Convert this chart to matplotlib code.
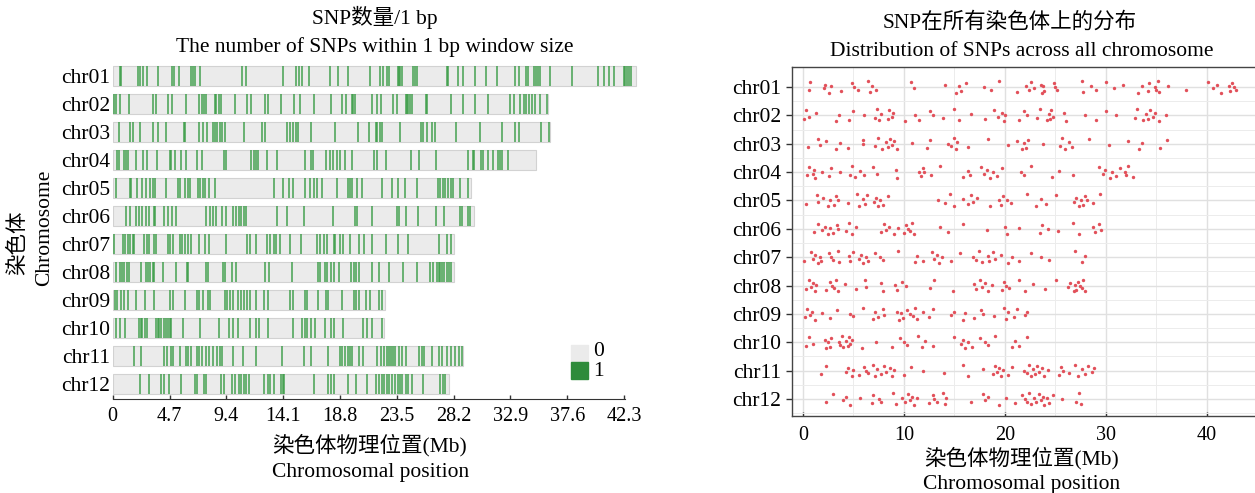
import matplotlib
matplotlib.use("Agg")
import matplotlib.pyplot as plt
from matplotlib.patches import Rectangle
import numpy as np

plt.rcParams["font.family"] = ["Liberation Serif", "Noto Sans CJK SC"]

# ---------------------------------------------------------------------------
# Data (Mb)
# ---------------------------------------------------------------------------

CHR_NAMES = ["chr01", "chr02", "chr03", "chr04", "chr05", "chr06",
             "chr07", "chr08", "chr09", "chr10", "chr11", "chr12"]
CHR_LEN = [43.3, 36.0, 36.2, 35.0, 29.6, 29.9, 28.2, 28.2, 22.5, 22.4, 29.0, 27.8]

CHR01 = [0.62, 0.70, 2.11, 2.23, 2.54, 2.82, 3.77, 4.90, 5.04, 5.46, 6.48, 6.65, 6.82,
         7.24, 10.70, 10.99, 14.08, 15.15, 15.44, 15.63, 16.20, 17.97, 18.65, 19.44,
         21.24, 22.08, 22.39, 22.65, 22.87, 23.58, 23.66, 23.77, 23.94, 24.85, 24.99,
         25.18, 27.66, 27.75, 28.59, 29.01, 30.00, 30.85, 31.75, 33.24, 33.58, 34.20,
         34.34, 34.85, 34.99, 35.21, 35.32, 36.20, 38.00, 40.14, 40.65, 41.01, 41.46,
         42.25, 42.37, 42.51, 42.68, 42.87]
CHR02 = [0.11, 0.28, 0.62, 1.32, 3.30, 3.58, 4.56, 4.93, 6.03, 7.15, 7.38, 7.52, 7.72,
         8.45, 8.56, 8.79, 8.93, 10.08, 11.10, 11.46, 12.59, 12.87, 13.92, 14.99, 15.49,
         16.68, 18.08, 18.93, 19.32, 19.77, 19.89, 20.06, 21.46, 21.89, 22.17, 23.21,
         23.49, 24.23, 24.34, 24.45, 24.62, 24.79, 25.89, 26.03, 28.00, 29.01, 30.00,
         31.04, 32.87, 33.15, 33.72, 34.00, 34.20, 34.42, 34.70, 34.93, 35.32, 35.94]
CHR03 = [0.48, 1.46, 1.69, 2.25, 3.30, 3.72, 4.42, 5.92, 5.97, 7.10, 7.44, 7.80, 8.28,
         8.45, 8.65, 8.87, 9.07, 9.30, 10.85, 12.31, 12.59, 14.42, 14.70, 14.93, 15.13,
         15.32, 16.39, 18.37, 20.28, 21.18, 21.75, 21.89, 22.08, 22.31, 23.77, 25.46,
         25.63, 25.97, 26.39, 26.68, 28.37, 30.34, 32.17, 33.30, 33.63, 35.41, 36.11]
CHR04 = [0.39, 0.56, 0.96, 1.13, 1.24, 1.89, 2.54, 2.82, 3.66, 4.70, 4.85, 5.13, 5.69,
         6.03, 6.96, 7.38, 9.21, 9.35, 11.46, 11.66, 11.89, 12.03, 12.73, 13.63, 15.89,
         16.39, 16.54, 17.66, 17.94, 18.23, 18.51, 18.79, 19.21, 19.77, 21.61, 21.89,
         22.59, 24.70, 25.35, 26.76, 29.35, 29.77, 29.92, 30.42, 30.62, 31.04, 31.46,
         31.89, 32.03, 32.17, 32.68]
CHR05 = [0.28, 1.41, 1.52, 2.03, 2.45, 2.73, 3.10, 3.30, 3.49, 4.42, 5.41, 5.55, 5.97,
         6.20, 6.39, 7.04, 7.24, 7.44, 7.66, 7.94, 8.45, 13.35, 14.08, 14.56, 14.93,
         15.89, 16.34, 16.62, 16.90, 17.30, 18.59, 19.44, 19.63, 19.83, 20.20, 20.62,
         22.25, 23.10, 23.58, 24.14, 25.13, 26.87, 27.10, 27.32, 27.52, 27.72, 27.94,
         28.17, 28.73, 29.41]
CHR06 = [1.13, 1.46, 1.89, 2.17, 2.45, 2.73, 3.01, 3.38, 3.49, 4.28, 4.56, 4.90, 5.27,
         7.72, 8.08, 8.28, 8.51, 9.01, 9.41, 9.97, 10.20, 10.42, 10.62, 10.82, 11.04,
         13.58, 14.42, 15.83, 18.23, 20.00, 20.20, 21.41, 23.49, 23.66, 24.28, 25.27,
         26.76, 27.38, 28.73, 28.93, 29.35, 29.58]
CHR07 = [0.11, 0.85, 1.04, 1.24, 1.46, 1.69, 1.80, 2.59, 2.82, 3.01, 3.44, 3.58, 4.56,
         4.70, 4.99, 5.55, 5.75, 5.97, 6.25, 6.48, 7.10, 7.66, 7.94, 9.41, 11.10, 11.32,
         11.89, 12.79, 13.01, 13.30, 13.52, 13.80, 14.65, 15.61, 16.90, 17.18, 17.46,
         17.75, 18.31, 18.42, 18.79, 19.07, 19.63, 20.34, 20.76, 21.46, 22.59, 23.58,
         24.42, 26.96, 27.66, 28.00]
CHR08 = [0.28, 0.62, 0.76, 0.96, 1.18, 1.32, 2.31, 2.73, 2.93, 3.10, 3.30, 3.44, 4.14,
         5.27, 6.11, 6.25, 7.72, 7.89, 9.13, 9.30, 9.86, 10.20, 12.59, 12.96, 14.85,
         16.96, 17.18, 17.52, 17.75, 18.03, 18.31, 18.70, 19.72, 19.92, 20.11, 20.39,
         21.41, 22.03, 22.82, 24.00, 25.13, 26.25, 26.48, 26.82, 26.96, 27.10, 27.24,
         27.44, 27.61, 27.80, 28.00]
CHR09 = [0.20, 0.39, 0.68, 0.90, 1.24, 1.89, 2.65, 3.38, 4.70, 4.99, 5.97, 6.96, 7.15,
         7.44, 7.89, 8.08, 9.30, 9.49, 9.69, 9.92, 10.34, 10.62, 10.90, 11.10, 11.32,
         11.89, 12.51, 12.87, 14.70, 14.93, 15.89, 16.06, 16.96, 17.66, 17.80, 18.93,
         19.92, 20.11, 20.34, 20.96, 21.24, 22.03, 22.25]
CHR10 = [0.28, 0.62, 1.04, 2.17, 2.31, 2.45, 2.65, 2.82, 3.58, 3.72, 3.86, 4.00, 4.23,
         4.42, 4.56, 4.70, 4.85, 5.83, 7.24, 8.79, 9.63, 9.97, 10.34, 11.38, 11.83,
         12.11, 12.87, 14.93, 15.69, 15.89, 16.11, 16.39, 16.73, 17.52, 18.08, 18.31,
         19.07, 20.68, 21.04, 21.46, 22.25]
CHR11 = [1.75, 2.31, 4.28, 4.51, 4.85, 4.99, 5.55, 6.03, 6.25, 6.48, 6.96, 7.10, 7.38,
         7.72, 8.00, 8.28, 8.65, 8.85, 9.07, 9.97, 10.76, 11.89, 14.00, 15.83, 16.39,
         17.80, 18.79, 18.99, 19.21, 19.44, 19.63, 19.83, 20.34, 20.68, 21.89, 22.17,
         22.45, 22.65, 22.82, 23.01, 23.21, 23.38, 23.66, 23.94, 24.28, 25.35, 25.55,
         25.75, 26.39, 26.96, 27.24, 27.61, 28.00, 28.28, 28.65, 28.85]
CHR12 = [2.25, 3.01, 4.00, 4.23, 4.62, 5.69, 6.82, 6.96, 7.52, 7.72, 8.93, 9.21, 9.86,
         10.14, 10.42, 10.62, 10.82, 11.04, 11.27, 12.51, 12.87, 13.01, 13.30, 13.92,
         14.08, 14.20, 16.62, 17.80, 18.03, 18.31, 19.44, 20.11, 21.04, 21.75, 22.03,
         22.25, 22.45, 22.65, 22.87, 23.10, 23.38, 23.58, 23.77, 23.94, 24.23, 24.42,
         24.79, 25.69, 27.04, 27.32, 27.52]

SNP_POS = [CHR01, CHR02, CHR03, CHR04, CHR05, CHR06,
           CHR07, CHR08, CHR09, CHR10, CHR11, CHR12]

LEFT_TICKS = [0, 4.7, 9.4, 14.1, 18.8, 23.5, 28.2, 32.9, 37.6, 42.3]
RIGHT_TICKS = [0, 10, 20, 30, 40]

# style
GREEN = "#2e8b3a"
LINE_GREEN = "#3a9c46"
BAR_BG = "#ebebeb"
RED = "#e2505a"
JITTER = [0.12, -0.18, 0.05, -0.08, 0.20, -0.02, 0.15, -0.14, 0.0, 0.09, -0.21, 0.18, -0.05]

W, H = 1255, 493
FS = 15.5


def fx(px):
    return px / W


def fy(py):
    return 1 - py / H


fig = plt.figure(figsize=(W / 100, H / 100), dpi=100)
rows = np.arange(1, len(CHR_NAMES) + 1)

# ---------------------------------------------------------------------------
# Left: SNP density bars
# ---------------------------------------------------------------------------
ax1 = fig.add_axes([fx(112.7), fy(399), fx(532), (399 - 62) / H])
ax1.barh(rows, CHR_LEN, height=0.72, left=0, color=BAR_BG,
         edgecolor="#d2d2d2", linewidth=0.8, zorder=1)
for r, pos in zip(rows, SNP_POS):
    ax1.vlines(pos, r - 0.35, r + 0.35, color=LINE_GREEN, linewidth=1.15,
               alpha=0.9, zorder=2)
ax1.set_xlim(0, 44)
ax1.set_ylim(12.54, 0.5)
ax1.set_yticks(rows, CHR_NAMES, fontsize=FS)
ax1.tick_params(axis="y", length=0, pad=2)
ax1.set_xticks(LEFT_TICKS, [f"{t:g}" for t in LEFT_TICKS], fontsize=14.5)
ax1.tick_params(axis="x", direction="in", length=3, width=1, pad=6, color="#333333")
for s in ["top", "left", "right"]:
    ax1.spines[s].set_visible(False)
ax1.spines["bottom"].set_bounds(0, 42.4)
ax1.spines["bottom"].set_color("#333333")
ax1.patch.set_alpha(0)

fig.text(fx(375), fy(17), "SNP数量/1 bp", ha="center", va="center", fontsize=FS)
fig.text(fx(375), fy(47), "The number of SNPs within 1 bp window size",
         ha="center", va="center", fontsize=FS)
fig.text(fx(370), fy(445), "染色体物理位置(Mb)", ha="center", va="center", fontsize=FS)
fig.text(fx(371), fy(473), "Chromosomal position", ha="center", va="center", fontsize=FS)
fig.text(fx(18), fy(243), "染色体", ha="center", va="center", rotation=90, fontsize=FS)
fig.text(fx(45), fy(228), "Chromosome", ha="center", va="center", rotation=90, fontsize=FS)

# legend
fig.add_artist(Rectangle((fx(571), fy(361)), fx(17), 16 / H, color=BAR_BG,
                         transform=fig.transFigure))
fig.add_artist(Rectangle((fx(571), fy(379)), fx(17), 17 / H, color=GREEN,
                         transform=fig.transFigure))
fig.text(fx(593), fy(352), "0", ha="left", va="center", fontsize=FS)
fig.text(fx(593), fy(371), "1", ha="left", va="center", fontsize=FS)

# ---------------------------------------------------------------------------
# Right: SNP distribution dots
# ---------------------------------------------------------------------------
ax2 = fig.add_axes([fx(792), fy(416), fx(465), (416 - 67) / H])
for r, pos in zip(rows, SNP_POS):
    jit = np.resize(JITTER, len(pos))
    ax2.scatter(pos, r + jit, s=6, color=RED, linewidths=0, zorder=3)
ax2.set_xlim(-1.08, 44.5)
ax2.set_ylim(12.6, 0.295)
ax2.set_yticks(rows, CHR_NAMES, fontsize=FS)
ax2.set_yticks(rows + 0.5, minor=True)
ax2.set_xticks(RIGHT_TICKS, [str(t) for t in RIGHT_TICKS], fontsize=14.5)
ax2.set_xticks([5, 15, 25, 35, 45], minor=True)
ax2.grid(which="major", color="#e0e0e0", linewidth=1.0, zorder=0)
ax2.grid(which="minor", color="#ececec", linewidth=0.7, zorder=0)
ax2.tick_params(axis="y", which="major", length=4, width=1, color="#333333", pad=4)
ax2.tick_params(axis="x", which="major", direction="in", length=3, width=1,
                color="#333333", pad=7)
ax2.tick_params(which="minor", length=0)
ax2.set_axisbelow(True)
for s in ax2.spines.values():
    s.set_color("#444444")
    s.set_linewidth(1.0)

fig.text(fx(1010), fy(22), "SNP在所有染色体上的分布", ha="center", va="center", fontsize=FS)
fig.text(fx(1022), fy(52), "Distribution of SNPs across all chromosome",
         ha="center", va="center", fontsize=FS)
fig.text(fx(1022), fy(458), "染色体物理位置(Mb)", ha="center", va="center", fontsize=FS)
fig.text(fx(1022), fy(484), "Chromosomal position", ha="center", va="center", fontsize=FS)

fig.savefig("out.png", dpi=100)
